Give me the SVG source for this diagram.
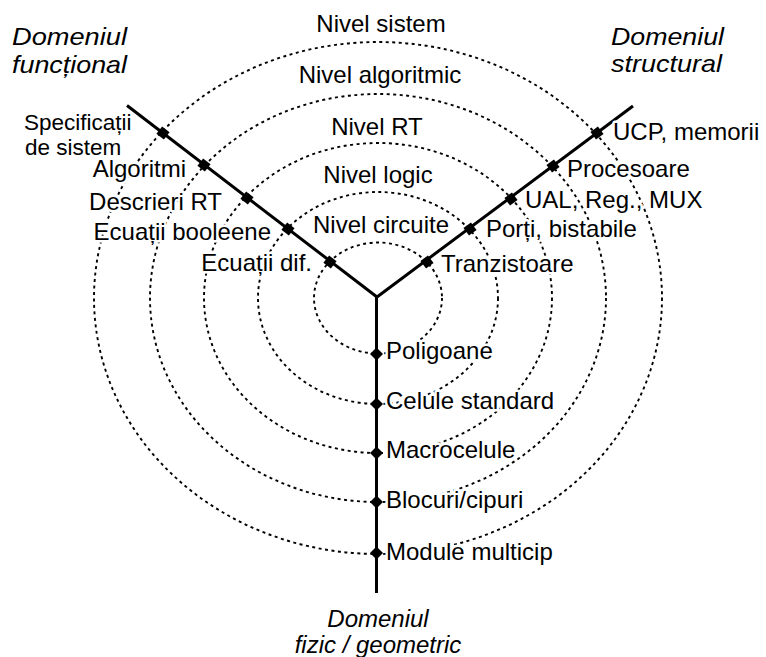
<svg xmlns="http://www.w3.org/2000/svg" width="766" height="657" viewBox="0 0 766 657">
  <style>
    .lvl { fill: none; stroke: #000; stroke-width: 1.9; stroke-dasharray: 3 3.5; }
    .axis { fill: none; stroke: #000; stroke-width: 3; stroke-linecap: butt; }
    .dot { fill: #000; }
    text { font-family: "Liberation Sans", Arial, sans-serif; fill: #000; }
    .lbl { font-size: 24px; stroke: #fff; stroke-width: 5; stroke-linejoin: round; paint-order: stroke; }
    .sm { font-size: 22.5px; }
    .ttl { font-size: 24px; font-style: italic; }
    .mid { text-anchor: middle; }
    .end { text-anchor: end; }
  </style>
  <defs>
    <rect id="sq" x="-4.7" y="-4.7" width="9.4" height="9.4"/>
    <rect id="dm" x="-4.6" y="-4.6" width="9.2" height="9.2" transform="rotate(45)"/>
  </defs>
  <rect width="766" height="657" fill="#fff"/>

  <!-- abstraction levels: concentric dotted rings -->
  <g id="levels">
    <ellipse class="lvl" cx="378" cy="298" rx="64" ry="55.5"/>
    <ellipse class="lvl" cx="378" cy="298" rx="120" ry="106"/>
    <ellipse class="lvl" cx="378" cy="298" rx="174" ry="155"/>
    <ellipse class="lvl" cx="378" cy="298" rx="228" ry="204"/>
    <ellipse class="lvl" cx="378" cy="298" rx="284" ry="256"/>
  </g>

  <!-- the three domain axes -->
  <g id="connectors">
    <line class="axis" x1="377" y1="297" x2="127" y2="105.5"/>
    <line class="axis" x1="377" y1="297" x2="633" y2="106"/>
    <line class="axis" x1="376.5" y1="296" x2="376.5" y2="593"/>
  </g>

  <!-- level titles -->
  <g id="level-labels">
    <text class="lbl mid" x="381" y="32">Nivel sistem</text>
    <text class="lbl mid" x="380" y="83">Nivel algoritmic</text>
    <text class="lbl mid" x="377" y="135">Nivel RT</text>
    <text class="lbl mid" x="378" y="183">Nivel logic</text>
    <text class="lbl mid" x="381" y="233">Nivel circuite</text>
  </g>

  <!-- functional domain -->
  <g id="functional">
    <text class="ttl" x="12" y="45" textLength="115" lengthAdjust="spacingAndGlyphs">Domeniul</text>
    <text class="ttl" x="12" y="73" textLength="115" lengthAdjust="spacingAndGlyphs">funcțional</text>
    <g id="f-sistem">
      <use href="#sq" class="dot" transform="translate(163,133) rotate(37.5)"/>
      <text class="lbl sm" x="24" y="130">Specificații</text>
      <text class="lbl sm" x="25" y="155">de sistem</text>
    </g>
    <g id="f-algoritmi">
      <use href="#sq" class="dot" transform="translate(204,165) rotate(37.5)"/>
      <text class="lbl end" x="186" y="177">Algoritmi</text>
    </g>
    <g id="f-rt">
      <use href="#sq" class="dot" transform="translate(247,198) rotate(37.5)"/>
      <text class="lbl end" x="222" y="210">Descrieri RT</text>
    </g>
    <g id="f-logic">
      <use href="#sq" class="dot" transform="translate(288,229) rotate(37.5)"/>
      <text class="lbl end" x="271" y="240">Ecuații booleene</text>
    </g>
    <g id="f-circuit">
      <use href="#sq" class="dot" transform="translate(330,262) rotate(37.5)"/>
      <text class="lbl end" x="312" y="271">Ecuații dif.</text>
    </g>
  </g>

  <!-- structural domain -->
  <g id="structural">
    <text class="ttl" x="611" y="45" textLength="113" lengthAdjust="spacingAndGlyphs">Domeniul</text>
    <text class="ttl" x="611" y="72" textLength="111" lengthAdjust="spacingAndGlyphs">structural</text>
    <g id="s-sistem">
      <use href="#sq" class="dot" transform="translate(597,133) rotate(-36.7)"/>
      <text class="lbl" x="613" y="140">UCP, memorii</text>
    </g>
    <g id="s-algoritmic">
      <use href="#sq" class="dot" transform="translate(553,166) rotate(-36.7)"/>
      <text class="lbl" x="567" y="177">Procesoare</text>
    </g>
    <g id="s-rt">
      <use href="#sq" class="dot" transform="translate(511,199) rotate(-36.7)"/>
      <text class="lbl" x="525" y="208">UAL, Reg., MUX</text>
    </g>
    <g id="s-logic">
      <use href="#sq" class="dot" transform="translate(470,229) rotate(-36.7)"/>
      <text class="lbl" x="486" y="237">Porți, bistabile</text>
    </g>
    <g id="s-circuit">
      <use href="#sq" class="dot" transform="translate(427,262) rotate(-36.7)"/>
      <text class="lbl" x="441" y="272">Tranzistoare</text>
    </g>
  </g>

  <!-- physical / geometric domain -->
  <g id="physical">
    <text class="ttl mid" x="378" y="627">Domeniul</text>
    <text class="ttl mid" x="378" y="653">fizic / geometric</text>
    <g id="p-circuit">
      <use href="#dm" class="dot" transform="translate(376.5,354)"/>
      <text class="lbl" x="386" y="359">Poligoane</text>
    </g>
    <g id="p-logic">
      <use href="#dm" class="dot" transform="translate(376.5,404)"/>
      <text class="lbl" x="386" y="409">Celule standard</text>
    </g>
    <g id="p-rt">
      <use href="#dm" class="dot" transform="translate(376.5,453)"/>
      <text class="lbl" x="386" y="458">Macrocelule</text>
    </g>
    <g id="p-algoritmic">
      <use href="#dm" class="dot" transform="translate(376.5,502)"/>
      <text class="lbl" x="386" y="508">Blocuri/cipuri</text>
    </g>
    <g id="p-sistem">
      <use href="#dm" class="dot" transform="translate(376.5,553)"/>
      <text class="lbl" x="386" y="560">Module multicip</text>
    </g>
  </g>
</svg>
